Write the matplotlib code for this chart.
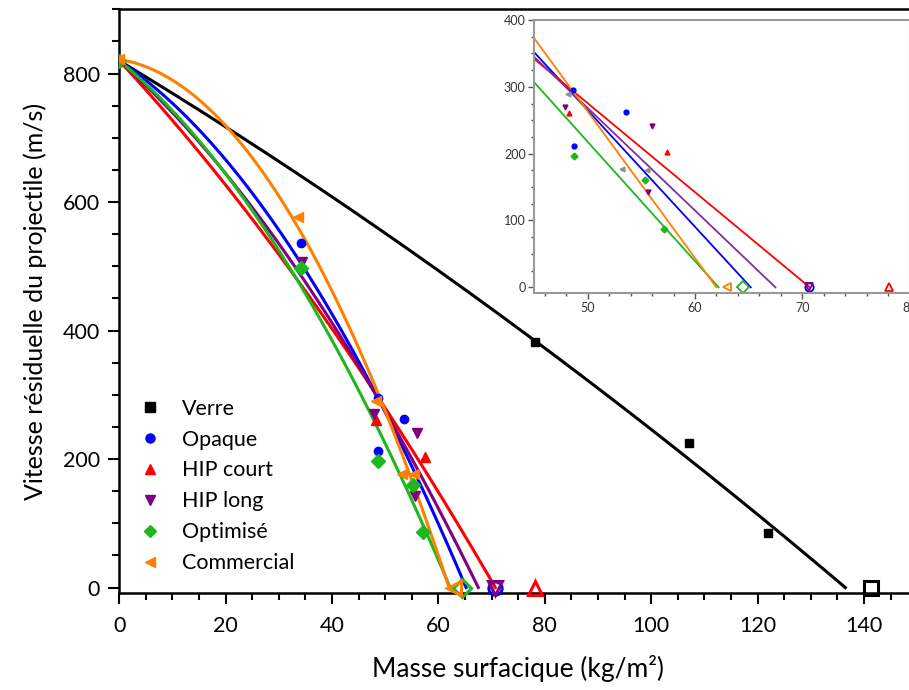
import numpy as np
import matplotlib
matplotlib.use('Agg')
import matplotlib.pyplot as plt
from matplotlib.lines import Line2D

plt.rcParams['font.family'] = ['Lato', 'DejaVu Sans']

# Series
names = ['Verre', 'Opaque', 'HIP court', 'HIP long', 'Optimisé', 'Commercial']
colors = ['#000000', '#0000FF', '#FF0000', '#800080', '#1CB81C', '#FF8000']
markers = ['s', 'o', '^', 'v', 'D', '<']

verre_x = [0, 78.1, 107.1, 121.9]
verre_v = [820, 382, 225, 85]
opaque_x = [0, 34.1, 48.6, 48.7, 53.6]
opaque_v = [820, 537, 295, 212, 262]
hipc_x = [0, 48.3, 57.4]
hipc_v = [820, 261, 203]
hipl_x = [0, 34.4, 47.9, 56.0, 55.6]
hipl_v = [820, 506, 270, 241, 142]
optim_x = [0, 34.1, 48.7, 55.3, 57.1]
optim_v = [820, 498, 197, 160, 87]
comm_x = [0, 33.6, 48.2, 53.2, 55.5]
comm_v = [822, 576, 290, 177, 176]

# ballistic limit (open markers at v = 0)
limit_x = [141.4, 70.6, 78.1, 70.6, 64.5, 63.0]

# points read on each fitted curve (start, middle, zero crossing)
curve_x = [[0, 78, 136.5], [0, 45, 65.2], [0, 45, 70.7],
           [0, 45, 67.5], [0, 45, 62.2], [0, 45, 62.0]]
curve_v = [[820, 385, 0], [820, 352, 0], [820, 342, 0],
           [820, 345, 0], [820, 307, 0], [822, 373, 0]]

# straight lines of the inset: value at x=45 and zero crossing
inset_v45 = [352, 342, 345, 307, 373]
inset_x0 = [65.2, 70.7, 67.5, 62.2, 62.0]

series_x = [verre_x, opaque_x, hipc_x, hipl_x, optim_x, comm_x]
series_v = [verre_v, opaque_v, hipc_v, hipl_v, optim_v, comm_v]

fig = plt.figure(figsize=(9.09, 6.9), dpi=100)
ax = fig.add_axes([0.1312, 0.1401, 0.8778, 0.8464])

for i in range(6):
    coef = np.polyfit(curve_x[i], curve_v[i], 2)
    xs = np.linspace(0, curve_x[i][-1], 200)
    ax.plot(xs, np.polyval(coef, xs), color=colors[i], lw=2.2, zorder=2)
for i in range(6):
    ax.plot(series_x[i], series_v[i], ls='none', marker=markers[i],
            color=colors[i], ms=6 if markers[i] in 'os' else 7, zorder=3)
    ax.plot([limit_x[i]], [0], ls='none', marker=markers[i], mfc='none',
            mec=colors[i], mew=2.2, ms=9.5, clip_on=False, zorder=4)

ax.set_xlim(0, 150)
ax.set_ylim(-9, 900)
ax.set_xticks(np.arange(0, 151, 20))
ax.set_xticks(np.arange(0, 151, 5), minor=True)
ax.set_yticks(np.arange(0, 801, 200))
ax.set_yticks(np.arange(0, 901, 50), minor=True)
ax.tick_params(which='major', direction='out', length=8, width=1.5,
               labelsize=15.5, pad=6)
ax.tick_params(axis='x', which='major', pad=8)
ax.tick_params(which='minor', direction='out', length=5, width=1.5)
for s in ax.spines.values():
    s.set_linewidth(1.8)
ax.set_xlabel('Masse surfacique (kg/m²)', fontsize=19, labelpad=14)
ax.set_ylabel('Vitesse résiduelle du projectile (m/s)', fontsize=18, labelpad=11)

handles = [Line2D([], [], ls='none', marker=markers[i], color=colors[i], ms=6.5)
           for i in range(6)]
ax.legend(handles, names, loc='upper left', bbox_to_anchor=(0.012, 0.352),
          frameon=False, fontsize=15.5, borderpad=0, handlelength=1.0,
          handletextpad=0.95, labelspacing=0.51)

# inset
axi = fig.add_axes([0.5875, 0.5749, 0.4131, 0.3961])
inset_colors = ['#0000FF', '#FF0000', '#7F2F9F', '#1CB81C', '#FF8000']
for i in range(5):
    axi.plot([40, inset_x0[i]], [inset_v45[i] * (inset_x0[i] - 40) / (inset_x0[i] - 45), 0],
             color=inset_colors[i], lw=1.3)
inset_mcolors = ['#0000FF', '#FF0000', '#800080', '#1CB81C', '#909090']
for j, i in enumerate(range(1, 6)):
    axi.plot(series_x[i][1:], series_v[i][1:], ls='none', marker=markers[i],
             color=inset_mcolors[j], ms=3.5)
for i in range(1, 6):
    axi.plot([limit_x[i]], [0], ls='none', marker=markers[i], mfc='none',
             mec=colors[i], mew=1.3, ms=6, clip_on=False)
axi.set_xlim(45, 80)
axi.set_ylim(-9, 400)
axi.set_xticks([50, 60, 70, 80])
axi.set_xticks(np.arange(46, 81, 2), minor=True)
axi.set_yticks(np.arange(0, 401, 100))
axi.set_yticks(np.arange(0, 401, 25), minor=True)
axi.tick_params(which='major', direction='out', length=4, width=1,
                labelsize=9, colors='#555555', labelcolor='#333333', pad=2)
axi.tick_params(which='minor', direction='out', length=2.5, width=1, colors='#555555')
for s in axi.spines.values():
    s.set_linewidth(1.5)
    s.set_color('#999999')

fig.savefig('out.png', dpi=100)
